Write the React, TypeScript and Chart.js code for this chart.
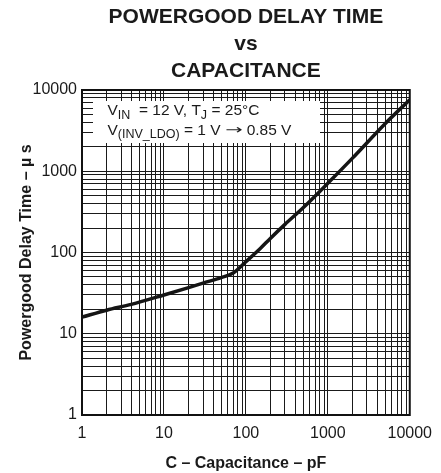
import { useEffect, useRef } from 'react';
import { Chart, registerables } from 'chart.js';

Chart.register(...registerables);

// ---- data ----
const capacitance = [1, 2, 4, 10, 20, 30, 50, 70, 100, 150, 200, 300, 500, 1000, 2000, 5000, 10000];
const delay = [16, 19.5, 23, 30, 37, 42, 49, 56, 77, 112, 150, 222, 355, 710, 1450, 3850, 7600];
const decades = [1, 10, 100, 1000, 10000];
const mantissas = [1, 2, 3, 4, 5, 6, 7, 8, 9];
const titleLines = ['POWERGOOD DELAY TIME', 'vs', 'CAPACITANCE'];
const xTitle = 'C – Capacitance – pF';
const yTitle = 'Powergood Delay Time – µ s';
type Part = { t: string; kind: 'main' | 'sub' | 'arrow' };
const noteLine1: Part[] = [
  { t: 'V', kind: 'main' },
  { t: 'IN', kind: 'sub' },
  { t: '  = 12 V, T', kind: 'main' },
  { t: 'J', kind: 'sub' },
  { t: ' = 25°C', kind: 'main' },
];
const noteLine2: Part[] = [
  { t: 'V', kind: 'main' },
  { t: '(INV_LDO)', kind: 'sub' },
  { t: ' = 1 V ', kind: 'main' },
  { t: '→', kind: 'arrow' },
  { t: ' 0.85 V', kind: 'main' },
];

const gridTicks = decades.flatMap((d) => (d === 10000 ? [d] : mantissas.map((m) => m * d)));

const FONT = '"Liberation Sans", Arial, Helvetica, sans-serif';
const INK = '#1a1a1a';

const buildTicks = (scale: any) => {
  scale.ticks = gridTicks.map((v) => ({ value: v, major: decades.includes(v) }));
};
const tickLabel = (v: any) => {
  const n = Number(v);
  return decades.includes(n) ? String(n) : '';
};

const notePlugin = {
  id: 'noteBox',
  beforeDatasetsDraw(chart: any) {
    const { ctx, chartArea: a } = chart;
    ctx.save();
    ctx.fillStyle = '#ffffff';
    ctx.fillRect(a.left + 11, a.top + 11, 227, 42);
    ctx.restore();
  },
  afterDatasetsDraw(chart: any) {
    const { ctx, chartArea: a } = chart;
    ctx.save();
    ctx.fillStyle = INK;
    ctx.textBaseline = 'alphabetic';
    ctx.textAlign = 'left';
    const drawLine = (parts: Part[], x: number, y: number) => {
      let cx = x;
      for (const p of parts) {
        if (p.kind === 'arrow') {
          ctx.font = `13px "DejaVu Sans", sans-serif`;
          const w = ctx.measureText(p.t).width;
          const sx = 1.6;
          ctx.save();
          ctx.translate(cx, y - 0.5);
          ctx.scale(sx, 1);
          ctx.fillText(p.t, 0, 0);
          ctx.restore();
          cx += w * sx;
          continue;
        }
        ctx.font = p.kind === 'sub' ? `12.5px ${FONT}` : `15.5px ${FONT}`;
        ctx.fillText(p.t, cx, p.kind === 'sub' ? y + 3.5 : y);
        cx += ctx.measureText(p.t).width;
      }
    };
    drawLine(noteLine1, a.left + 25.5, a.top + 25);
    drawLine(noteLine2, a.left + 25.5, a.top + 44.5);
    ctx.restore();
  },
  afterDraw(chart: any) {
    const { ctx, chartArea: a } = chart;
    ctx.save();
    ctx.strokeStyle = '#111';
    ctx.lineWidth = 2;
    ctx.strokeRect(a.left, a.top, a.right - a.left, a.bottom - a.top);
    ctx.restore();
  },
};

export default function App() {
  const ref = useRef<HTMLCanvasElement | null>(null);
  useEffect(() => {
    if (!ref.current) return;
    const chart = new Chart(ref.current, {
      type: 'line',
      data: {
        datasets: [
          {
            data: capacitance.map((c, i) => ({ x: c, y: delay[i] })),
            borderColor: '#151515',
            borderWidth: 3.5,
            pointRadius: 0,
            cubicInterpolationMode: 'monotone',
            fill: false,
          },
        ],
      },
      options: {
        animation: false,
        responsive: false,
        layout: { padding: { left: 0, right: 29, top: 0, bottom: 0 } },
        plugins: {
          legend: { display: false },
          tooltip: { enabled: false },
          title: {
            display: true,
            text: titleLines,
            fullSize: false,
            color: INK,
            font: { family: FONT, size: 21, weight: 'bold', lineHeight: 1.27 },
            padding: { top: 4.2, bottom: 5.8 },
          },
        },
        scales: {
          x: {
            type: 'logarithmic',
            min: 1,
            max: 10000,
            afterBuildTicks: buildTicks,
            afterFit: (s: any) => {
              s.height = 58;
            },
            grid: { color: INK, lineWidth: 1, drawTicks: false },
            border: { display: false },
            ticks: {
              callback: tickLabel,
              autoSkip: false,
              maxRotation: 0,
              color: INK,
              padding: 9,
              font: { family: FONT, size: 16 },
            },
            title: {
              display: true,
              text: xTitle,
              color: INK,
              font: { family: FONT, size: 16, weight: 'bold', lineHeight: 1.2 },
              padding: { top: 7, bottom: 0 },
            },
          },
          y: {
            type: 'logarithmic',
            min: 1,
            max: 10000,
            afterBuildTicks: buildTicks,
            afterFit: (s: any) => {
              s.width = 82;
            },
            grid: { color: INK, lineWidth: 1, drawTicks: false },
            border: { display: false },
            ticks: {
              callback: tickLabel,
              autoSkip: false,
              color: INK,
              padding: 5,
              font: { family: FONT, size: 16 },
            },
            title: {
              display: true,
              text: yTitle,
              color: INK,
              font: { family: FONT, size: 16, weight: 'bold', lineHeight: 1.2 },
              padding: { top: 16.5, bottom: 0 },
            },
          },
        },
      },
      plugins: [notePlugin],
    } as any);
    return () => chart.destroy();
  }, []);
  return (
    <div style={{ position: 'absolute', left: 0, top: 0, width: 441, height: 473, background: '#fff' }}>
      <canvas ref={ref} width={441} height={473} />
    </div>
  );
}
